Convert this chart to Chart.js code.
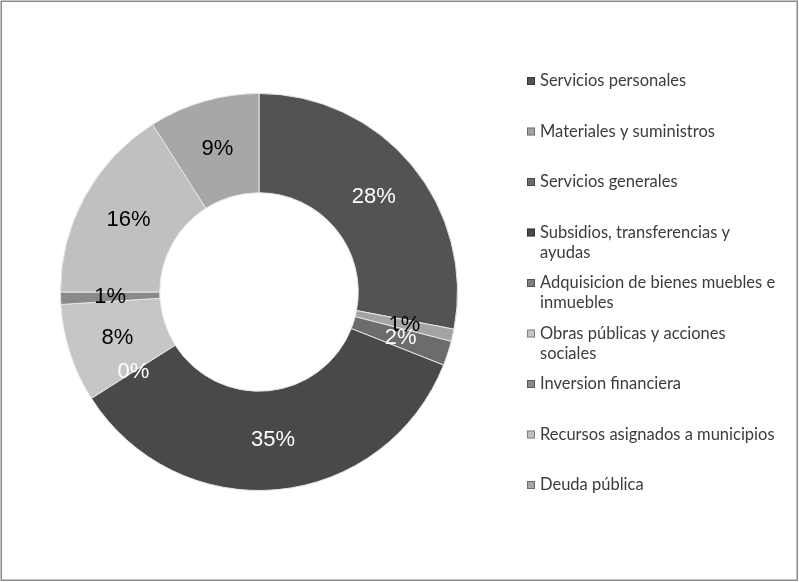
<!DOCTYPE html>
<html>
<head>
<meta charset="utf-8">
<script src="https://cdn.jsdelivr.net/npm/chart.js@4/dist/chart.umd.min.js"></script>
<style>
  html, body { margin: 0; padding: 0; background: #ffffff; }
  #wrap { position: relative; width: 799px; height: 582px; }
  canvas { display: block; }
</style>
</head>
<body>
<div id="wrap"><canvas id="chart" width="799" height="582"></canvas></div>
<script>
// Budget categories (multi-line entries are wrapped the way the legend shows them)
const categories = [
  ['Servicios personales'],
  ['Materiales y suministros'],
  ['Servicios generales'],
  ['Subsidios, transferencias y', 'ayudas'],
  ['Adquisicion de bienes muebles e', 'inmuebles'],
  ['Obras públicas y acciones', 'sociales'],
  ['Inversion financiera'],
  ['Recursos asignados a municipios'],
  ['Deuda pública']
];

// Share of total spending, in percent
const shares = [28, 1, 2, 35, 0, 8, 1, 16, 9];

// Grey fill for each slice and the colour of its percentage label
const sliceColors = ['#535353', '#a4a4a4', '#6c6c6c', '#494949', '#7e7e7e', '#c6c6c6', '#8a8a8a', '#c0c0c0', '#a7a7a7'];
const labelColors = ['#ffffff', '#000000', '#ffffff', '#ffffff', '#ffffff', '#000000', '#000000', '#000000', '#000000'];

const frameAndBackground = {
  id: 'frameAndBackground',
  beforeDraw(chart) {
    const ctx = chart.ctx;
    ctx.save();
    ctx.fillStyle = '#ffffff';
    ctx.fillRect(0, 0, chart.width, chart.height);
    ctx.strokeStyle = '#8a8a8a';
    ctx.lineWidth = 1.5;
    ctx.strokeRect(1.25, 1.25, chart.width - 3, chart.height - 3);
    ctx.restore();
  }
};

const sliceLabels = {
  id: 'sliceLabels',
  afterDatasetsDraw(chart) {
    const ctx = chart.ctx;
    const meta = chart.getDatasetMeta(0);
    const values = chart.data.datasets[0].data;
    ctx.save();
    ctx.font = '22px "Liberation Sans", Arial, sans-serif';
    ctx.textAlign = 'center';
    ctx.textBaseline = 'middle';
    meta.data.forEach((arc, i) => {
      const p = arc.tooltipPosition();
      ctx.fillStyle = labelColors[i];
      ctx.fillText(Math.round(values[i]) + '%', p.x, p.y);
    });
    ctx.restore();
  }
};

const sideLegend = {
  id: 'sideLegend',
  afterDraw(chart) {
    const ctx = chart.ctx;
    const names = chart.data.labels;
    const fills = chart.data.datasets[0].backgroundColor;
    const x0 = 527, y0 = 81, step = 50.5, lineH = 20;
    ctx.save();
    ctx.font = '16.5px Lato, "Open Sans", sans-serif';
    ctx.textBaseline = 'middle';
    ctx.textAlign = 'left';
    names.forEach((lines, i) => {
      const y = y0 + i * step;
      ctx.fillStyle = fills[i];
      ctx.fillRect(x0, y - 4, 8, 8);
      ctx.strokeStyle = 'rgba(0,0,0,0.35)';
      ctx.lineWidth = 1;
      ctx.strokeRect(x0 + 0.5, y - 3.5, 7, 7);
      ctx.fillStyle = '#3c3c3c';
      lines.forEach((t, k) => ctx.fillText(t, x0 + 13, y + k * lineH));
    });
    ctx.restore();
  }
};

new Chart(document.getElementById('chart'), {
  type: 'doughnut',
  data: {
    labels: categories,
    datasets: [{
      data: shares,
      backgroundColor: sliceColors,
      borderColor: '#e6e6e6',
      borderWidth: 1
    }]
  },
  options: {
    responsive: false,
    devicePixelRatio: 1,
    animation: false,
    cutout: '50%',
    rotation: 0,
    layout: { padding: { left: 60, top: 93, right: 341, bottom: 91 } },
    plugins: {
      legend: { display: false },
      tooltip: { enabled: false },
      title: { display: false }
    }
  },
  plugins: [frameAndBackground, sliceLabels, sideLegend]
});
</script>
</body>
</html>
